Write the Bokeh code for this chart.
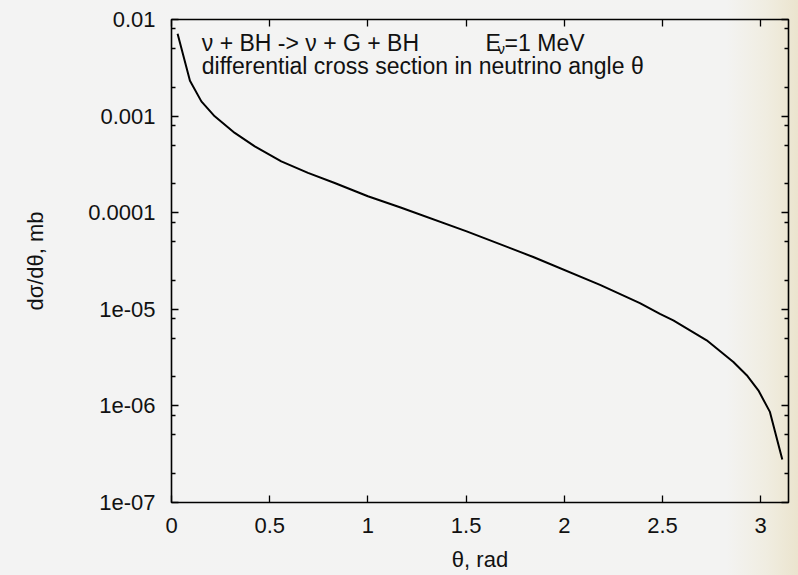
import math
from bokeh.plotting import figure
from bokeh.models import (Range1d, FixedTicker, CustomJSTickFormatter,
                          LinearAxis, LogAxis, Label)
from bokeh.embed import file_html
from bokeh.resources import INLINE

# ---- data ----
theta = [0.031, 0.094, 0.152, 0.22, 0.322, 0.424, 0.559, 0.695, 0.831, 1.0,
         1.163, 1.503, 1.842, 2.182, 2.385, 2.487, 2.555, 2.725, 2.861,
         2.929, 2.988, 3.047, 3.110]
dsigma = [7.11e-3, 2.32e-3, 1.42e-3, 9.95e-4, 6.70e-4, 4.86e-4, 3.40e-4,
          2.58e-4, 2.03e-4, 1.48e-4, 1.14e-4, 6.40e-5, 3.48e-5, 1.79e-5,
          1.16e-5, 8.97e-6, 7.69e-6, 4.78e-6, 2.85e-6, 2.08e-6, 1.45e-6,
          8.67e-7, 2.79e-7]

x_ticks = [0, 0.5, 1, 1.5, 2, 2.5, 3]
x_tick_labels = ["0", "0.5", "1", "1.5", "2", "2.5", "3"]
y_ticks = [1e-7, 1e-6, 1e-5, 1e-4, 1e-3, 1e-2]
y_tick_labels = ["1e-07", "1e-06", "1e-05", "0.0001", "0.001", "0.01"]
y_minor_mult = [2, 5, 8]

title_line1 = "\u03bd + BH -> \u03bd + G + BH"
title_line2 = "differential cross section in neutrino angle \u03b8"
energy_parts = ["E", "\u03bd", "=1 MeV"]
x_label = "\u03b8, rad"
y_label = "d\u03c3/d\u03b8, mb"

FONT = "Liberation Sans"
TICK_FS = "22px"
TEXT_FS = "23px"
INK = "#111111"

y_minor = [k * t for t in y_ticks[:-1] for k in y_minor_mult]

p = figure(width=798, height=575,
           x_range=Range1d(0, math.pi), y_range=Range1d(1e-7, 1e-2),
           y_axis_type="log", output_backend="svg", toolbar_location=None,
           min_border_left=171, min_border_right=10,
           min_border_top=19, min_border_bottom=73)

p.styles = {"background": "linear-gradient(to right, #f3f3f3 0%, #f3f3f2 91%, "
                          "#f0ede1 96%, #ebe4ce 100%)"}
p.background_fill_color = None
p.border_fill_color = None
p.outline_line_color = "black"
p.outline_line_width = 1.6
p.xgrid.visible = False
p.ygrid.visible = False

fmt_code = """
for (let i = 0; i < vals.length; i++) {
  if (Math.abs(tick - vals[i]) <= 1e-6 * Math.abs(vals[i]) + 1e-12) return labels[i];
}
return "";
"""
xfmt = CustomJSTickFormatter(args=dict(vals=x_ticks, labels=x_tick_labels), code=fmt_code)
yfmt = CustomJSTickFormatter(args=dict(vals=y_ticks, labels=y_tick_labels), code=fmt_code)
blankfmt = CustomJSTickFormatter(code="return '';")

xticker = FixedTicker(ticks=x_ticks, minor_ticks=[])
yticker = FixedTicker(ticks=y_ticks, minor_ticks=y_minor)


def style_axis(ax):
    ax.axis_line_color = None
    ax.major_tick_in = 7
    ax.major_tick_out = 0
    ax.minor_tick_in = 4
    ax.minor_tick_out = 0
    ax.major_tick_line_color = "black"
    ax.major_tick_line_width = 1.3
    ax.minor_tick_line_color = "black"
    ax.minor_tick_line_width = 1.3
    ax.major_label_text_font = FONT
    ax.major_label_text_color = INK
    ax.major_label_text_font_size = TICK_FS
    ax.axis_label_text_font = FONT
    ax.axis_label_text_font_size = "22px"
    ax.axis_label_text_font_style = "normal"
    ax.axis_label_text_color = INK


xa = p.xaxis[0]
xa.ticker = xticker
xa.formatter = xfmt
style_axis(xa)
xa.major_label_standoff = 15
xa.axis_label = x_label
xa.axis_label_standoff = 11

ya = p.yaxis[0]
ya.ticker = yticker
ya.formatter = yfmt
style_axis(ya)
ya.major_label_standoff = 16
ya.axis_label = y_label
ya.axis_label_standoff = 37

top = LinearAxis(ticker=xticker, formatter=blankfmt)
style_axis(top)
top.major_label_standoff = 0
p.add_layout(top, "above")
right = LogAxis(ticker=yticker, formatter=blankfmt)
style_axis(right)
right.major_label_standoff = 0
p.add_layout(right, "right")

p.line(theta, dsigma, line_color="black", line_width=2)

# annotations
lab = dict(text_font=FONT, text_font_size=TEXT_FS, text_baseline="alphabetic",
           text_color=INK)
p.add_layout(Label(x=0.154, y=5.73e-3, text=title_line1, **lab))
p.add_layout(Label(x=0.154, y=3.28e-3, text=title_line2, **lab))
ex = 1.579
p.add_layout(Label(x=ex, y=5.73e-3, x_offset=4, text=energy_parts[0], **lab))
p.add_layout(Label(x=ex, y=5.73e-3, x_offset=16, y_offset=-6, text=energy_parts[1],
                   text_font=FONT, text_font_size="15px",
                   text_baseline="alphabetic", text_color=INK))
p.add_layout(Label(x=ex, y=5.73e-3, x_offset=23, text=energy_parts[2], **lab))

open("out.html", "w").write(file_html(p, INLINE))
